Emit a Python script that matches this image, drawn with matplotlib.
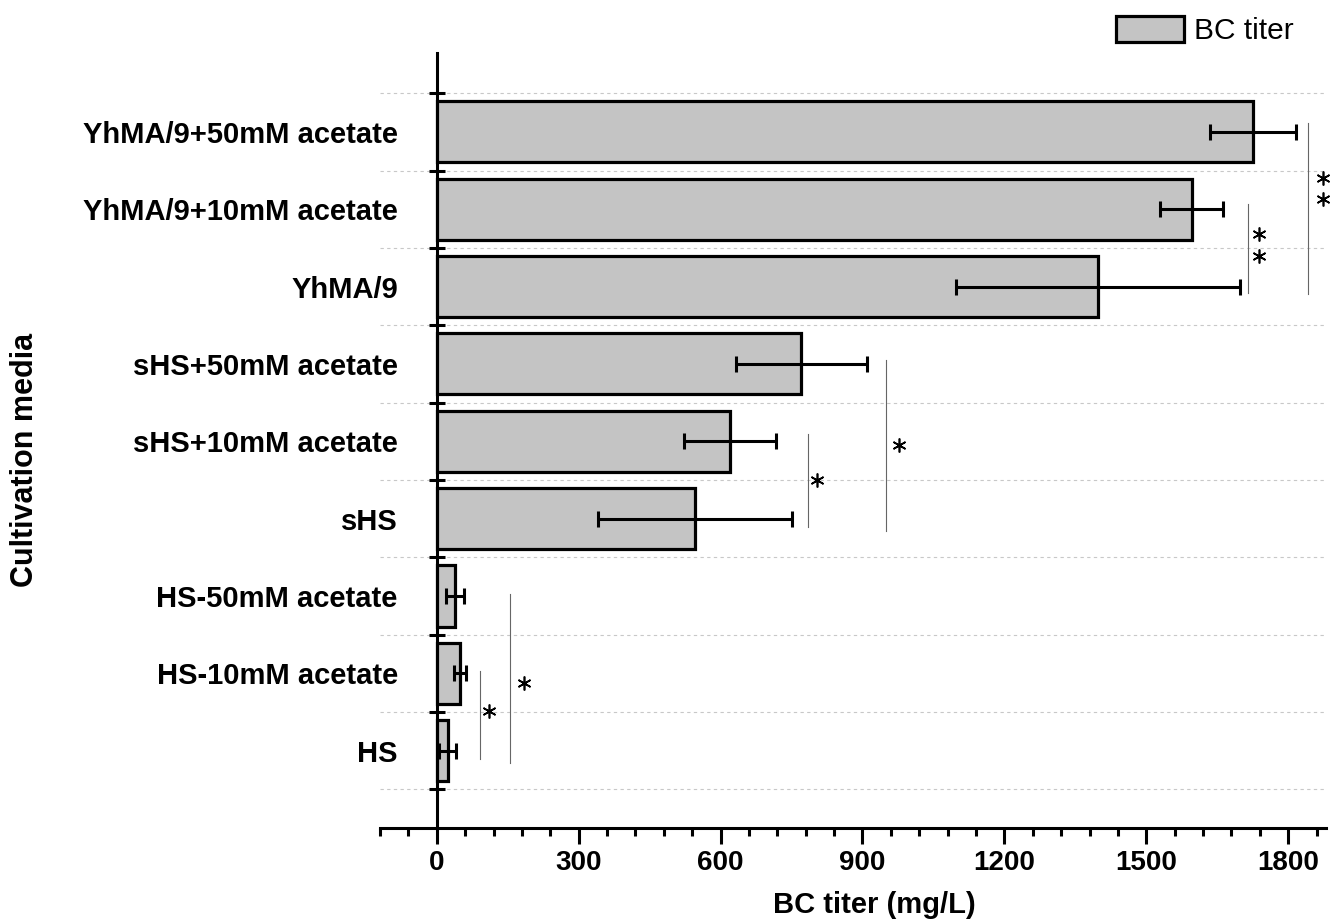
import numpy as np
import matplotlib
matplotlib.use("Agg")
import matplotlib.pyplot as plt
from matplotlib.ticker import MultipleLocator, FixedLocator

plt.rcParams['font.family'] = ['Liberation Sans', 'DejaVu Sans']

# data (bottom to top)
media = ['HS', 'HS-10mM acetate', 'HS-50mM acetate',
         'sHS', 'sHS+10mM acetate', 'sHS+50mM acetate',
         'YhMA/9', 'YhMA/9+10mM acetate', 'YhMA/9+50mM acetate']
titer = [23, 49, 38, 545, 620, 771, 1398, 1596, 1726]
titer_err = [18, 13, 19, 205, 98, 139, 300, 67, 91]

# significance brackets: x of line, y from, y to, star x, star y's
sig_x = [91, 154, 785, 950, 1715, 1842]
sig_y0 = [-0.11, -0.165, 2.89, 2.84, 5.916, 5.903]
sig_y1 = [1.03, 2.03, 4.09, 5.05, 7.065, 8.115]
star_x = [111, 185, 804, 977, 1739, 1874]
star_y = [[0.51], [0.88], [3.50], [3.95], [6.68, 6.39], [7.40, 7.13]]

fig = plt.figure(figsize=(13.33, 9.23), dpi=100)
ax = fig.add_axes([380/1333, 1-828/923, (1326-380)/1333, (828-53)/923])

ypos = np.arange(len(media))
bars = ax.barh(ypos, titer, height=0.79, color='#c4c4c4', edgecolor='black',
               linewidth=2.3, zorder=3, label='BC titer')
ax.errorbar(titer, ypos, xerr=titer_err, fmt='none', ecolor='black',
            elinewidth=2.2, capsize=5.8, capthick=2.2, zorder=4)

# dotted separators between categories
for g in np.arange(-0.5, len(media), 1.0):
    ax.axhline(g, color='#c8c8c8', lw=0.8, ls=(0, (3, 3)), zorder=1)

for x, a, b, sx, sys_ in zip(sig_x, sig_y0, sig_y1, star_x, star_y):
    ax.plot([x, x], [a, b], color='#666666', lw=0.8, zorder=5)
    for sy in sys_:
        ax.plot(sx, sy, marker=(6, 2, 0), ms=10, mew=1.2, color='black',
                zorder=5, ls='none', clip_on=False)

ax.set_xlim(-120, 1880)
ax.set_ylim(-1.0, 9.02)

for s in ['top', 'right']:
    ax.spines[s].set_visible(False)
ax.spines['left'].set_position(('data', 0))
ax.spines['left'].set_linewidth(2.2)
ax.spines['bottom'].set_linewidth(2.2)

ax.xaxis.set_major_locator(FixedLocator(np.arange(0, 1801, 300)))
ax.xaxis.set_minor_locator(MultipleLocator(60))
ax.tick_params(axis='x', which='major', direction='out', length=11.5,
               width=2.2, pad=4, labelsize=20)
ax.tick_params(axis='x', which='minor', direction='out', length=6,
               width=2.2)
for lab in ax.get_xticklabels():
    lab.set_fontweight('bold')

ax.set_yticks(ypos)
ax.set_yticklabels(media, fontsize=21, fontweight='bold')
ax.yaxis.set_minor_locator(FixedLocator(np.arange(-0.5, len(media), 1.0)))
ax.tick_params(axis='y', which='major', length=0, pad=28)
ax.tick_params(axis='y', which='minor', direction='inout', length=11.5,
               width=2.2)

fig.text(874/1333, 1-905/923, 'BC titer (mg/L)', fontsize=21,
         fontweight='bold', ha='center', va='center')
fig.text(25/1333, 1-460/923, 'Cultivation media', fontsize=22,
         fontweight='bold', ha='center', va='center', rotation=90)

ax.legend(handles=[bars], loc='upper right', frameon=False, fontsize=21.5,
          bbox_to_anchor=(1309/1333, 1-1/923), bbox_transform=fig.transFigure,
          borderpad=0, handlelength=2.3, handleheight=0.96,
          handletextpad=0.34)

fig.savefig('out.png', dpi=100)
